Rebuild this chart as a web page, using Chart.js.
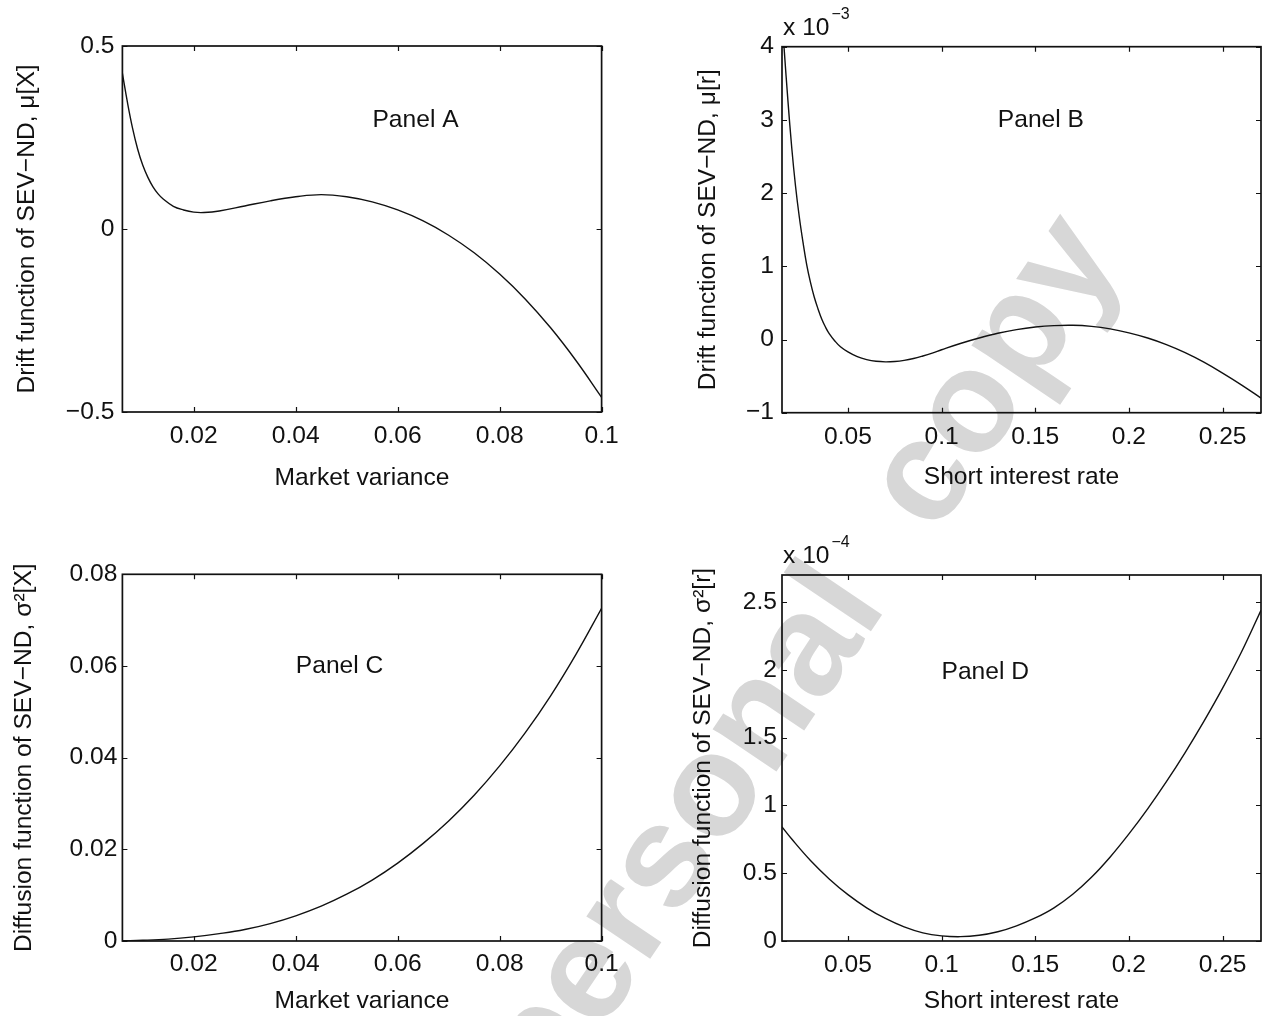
<!DOCTYPE html>
<html>
<head>
<meta charset="utf-8">
<script src="https://cdn.jsdelivr.net/npm/chart.js@4.4.0/dist/chart.umd.min.js"></script>
<style>
html, body { margin:0; padding:0; background:#fff; }
#page { position:relative; width:1262px; height:1016px; overflow:hidden; }
#wm { position:absolute; left:796px; top:654px; transform:translate(-50%,-50%) rotate(-56deg);
      font:bold 145px "Liberation Sans", Arial, sans-serif; word-spacing:44px;
      color:#d7d7d7; white-space:nowrap; line-height:1; }
canvas { position:absolute; }
</style>
</head>
<body>
<div id="page">
  <div id="wm">personal copy</div>
  <canvas id="cA" width="631" height="508" style="left:0;top:0"></canvas>
  <canvas id="cB" width="631" height="508" style="left:631px;top:0"></canvas>
  <canvas id="cC" width="631" height="508" style="left:0;top:508px"></canvas>
  <canvas id="cD" width="631" height="508" style="left:631px;top:508px"></canvas>
</div>
<script>
// Panel A: drift of market variance
const xA = [0.006,0.007,0.008,0.009,0.010,0.011,0.012,0.013,0.014,0.016,0.018,0.020,0.022,0.025,0.030,0.035,0.040,0.045,0.050,0.055,0.060,0.065,0.070,0.075,0.080,0.085,0.090,0.095,0.100];
const yA = [0.425,0.345,0.275,0.218,0.174,0.141,0.115,0.096,0.082,0.062,0.052,0.046,0.045,0.049,0.063,0.077,0.088,0.094,0.088,0.074,0.052,0.022,-0.017,-0.065,-0.123,-0.191,-0.27,-0.36,-0.46];

// Panel B: drift of short rate (x 10^-3)
const xB = [0.0148,0.016,0.018,0.020,0.022,0.024,0.026,0.028,0.030,0.032,0.034,0.036,0.038,0.040,0.043,0.046,0.050,0.055,0.060,0.065,0.070,0.075,0.080,0.085,0.090,0.095,0.100,0.110,0.120,0.130,0.140,0.150,0.160,0.170,0.180,0.190,0.200,0.210,0.220,0.230,0.240,0.250,0.260,0.2705];
const yB = [4.38,3.95,3.25,2.62,2.10,1.68,1.33,1.02,0.78,0.58,0.42,0.28,0.17,0.08,-0.02,-0.10,-0.17,-0.235,-0.275,-0.298,-0.305,-0.30,-0.285,-0.26,-0.225,-0.185,-0.14,-0.055,0.02,0.085,0.135,0.17,0.19,0.195,0.18,0.145,0.09,0.02,-0.07,-0.18,-0.31,-0.46,-0.62,-0.80];

// Panel C: diffusion of market variance
const xC = [0.006,0.010,0.015,0.020,0.025,0.030,0.035,0.040,0.045,0.050,0.055,0.060,0.065,0.070,0.075,0.080,0.085,0.090,0.095,0.100];
const yC = [0.00005,0.00015,0.0004,0.0009,0.0016,0.0025,0.0038,0.0055,0.0076,0.0102,0.0133,0.017,0.0213,0.0262,0.0318,0.0382,0.0454,0.0535,0.0626,0.0726];

// Panel D: diffusion of short rate (x 10^-4)
const xD = [0.0148,0.020,0.030,0.040,0.050,0.060,0.070,0.080,0.090,0.100,0.110,0.120,0.130,0.140,0.150,0.160,0.170,0.180,0.190,0.200,0.210,0.220,0.230,0.240,0.250,0.260,0.2705];
const yD = [0.842,0.752,0.594,0.458,0.342,0.245,0.166,0.104,0.060,0.038,0.032,0.042,0.068,0.112,0.170,0.245,0.345,0.47,0.62,0.79,0.975,1.175,1.39,1.62,1.865,2.13,2.44];

// tick values / labels
const xTicksVar = [0.02,0.04,0.06,0.08,0.1];
const xLabelsVar = ['0.02','0.04','0.06','0.08','0.1'];
const xTicksRate = [0.05,0.1,0.15,0.2,0.25];
const xLabelsRate = ['0.05','0.1','0.15','0.2','0.25'];
const yTicksA = [-0.5,0,0.5];
const yLabelsA = ['\u22120.5','0','0.5'];
const yTicksB = [-1,0,1,2,3,4];
const yLabelsB = ['\u22121','0','1','2','3','4'];
const yTicksC = [0,0.02,0.04,0.06,0.08];
const yLabelsC = ['0','0.02','0.04','0.06','0.08'];
const yTicksD = [0,0.5,1,1.5,2,2.5];
const yLabelsD = ['0','0.5','1','1.5','2','2.5'];

const FONT = 'Liberation Sans';
const FSIZE = 24.6;
const INK = '#111';

// matlab style box with inward ticks + panel text
const deco = {
  id: 'deco',
  afterDatasetsDraw(chart, args, opts) {
    const {ctx, chartArea: a, scales: {x, y}} = chart;
    ctx.save();
    ctx.strokeStyle = INK;
    ctx.lineWidth = 1.2;
    ctx.beginPath();
    x.ticks.forEach(t => {
      const p = Math.round(x.getPixelForValue(t.value)) + 0.5;
      ctx.moveTo(p, a.bottom); ctx.lineTo(p, a.bottom - 5);
      ctx.moveTo(p, a.top); ctx.lineTo(p, a.top + 5);
    });
    y.ticks.forEach(t => {
      const p = Math.round(y.getPixelForValue(t.value)) + 0.5;
      ctx.moveTo(a.left, p); ctx.lineTo(a.left + 5, p);
      ctx.moveTo(a.right, p); ctx.lineTo(a.right - 5, p);
    });
    ctx.stroke();
    ctx.lineWidth = 1.7;
    ctx.strokeRect(a.left, a.top, a.right - a.left, a.bottom - a.top);

    ctx.fillStyle = INK;
    ctx.font = FSIZE + 'px "' + FONT + '"';
    ctx.textAlign = 'center';
    ctx.textBaseline = 'middle';
    ctx.fillText(opts.label, x.getPixelForValue(opts.lx), y.getPixelForValue(opts.ly));

    if (opts.exp) {
      ctx.textAlign = 'left';
      ctx.fillText('x 10', a.left + 1, a.top - 18.5);
      const w = ctx.measureText('x 10').width;
      ctx.font = '16px "' + FONT + '"';
      ctx.fillText(opts.exp, a.left + 3 + w, a.top - 32);
    }
    ctx.restore();
  }
};

function panel(id, c) {
  const font = {family: FONT, size: FSIZE};
  new Chart(document.getElementById(id), {
    type: 'line',
    data: {
      datasets: [{
        data: c.xs.map((v, i) => ({x: v, y: c.ys[i]})),
        borderColor: INK, borderWidth: 1.4, pointRadius: 0,
        tension: 0.4, fill: false
      }]
    },
    options: {
      responsive: false, animation: false, events: [],
      layout: {padding: c.pad},
      plugins: {legend: {display: false}, tooltip: {enabled: false},
        deco: {label: c.label, lx: c.lx, ly: c.ly, exp: c.exp}},
      scales: {
        x: {
          type: 'linear', min: c.xmin, max: c.xmax,
          grid: {display: false, drawTicks: false}, border: {display: false},
          afterBuildTicks: s => { s.ticks = c.xt.map(v => ({value: v})); },
          afterFit: s => { s.height = c.xh; },
          ticks: {callback: (v, i) => c.xl[i], autoSkip: false, maxRotation: 0, minRotation: 0,
                  padding: c.xtp, color: INK, font},
          title: {display: true, text: c.xtitle, color: INK, font, padding: {top: 0, bottom: c.xtb}}
        },
        y: {
          type: 'linear', min: c.ymin, max: c.ymax,
          grid: {display: false, drawTicks: false}, border: {display: false},
          afterBuildTicks: s => { s.ticks = c.yt.map(v => ({value: v})); },
          afterFit: s => { s.width = c.yw; },
          ticks: {callback: (v, i) => c.yl[i], autoSkip: false, padding: c.ytp, color: INK, font},
          title: {display: true, text: c.ytitle, color: INK, font, padding: {top: c.ytt, bottom: 0}}
        }
      }
    },
    plugins: [deco]
  });
}

panel('cA', {xs: xA, ys: yA, xmin: 0.006, xmax: 0.1, ymin: -0.5, ymax: 0.5,
  xt: xTicksVar, xl: xLabelsVar, yt: yTicksA, yl: yLabelsA,
  pad: {top: 46, right: 29.4, left: 0, bottom: 0}, xh: 96, yw: 122.4,
  xtp: 9.5, xtb: 15.2, ytp: 8, ytt: 12.3,
  xtitle: 'Market variance', ytitle: 'Drift function of SEV\u2212ND, \u03bc[X]',
  label: 'Panel A', lx: 0.0635, ly: 0.296});

panel('cB', {xs: xB, ys: yB, xmin: 0.0148, xmax: 0.2705, ymin: -1, ymax: 4,
  xt: xTicksRate, xl: xLabelsRate, yt: yTicksB, yl: yLabelsB,
  pad: {top: 46.7, right: 1, left: 0, bottom: 0}, xh: 95.3, yw: 151,
  xtp: 9.8, xtb: 15.7, ytp: 8, ytt: 62.3,
  xtitle: 'Short interest rate', ytitle: 'Drift function of SEV\u2212ND, \u03bc[r]',
  label: 'Panel B', lx: 0.153, ly: 3.0, exp: '\u22123'});

panel('cC', {xs: xC, ys: yC, xmin: 0.006, xmax: 0.1, ymin: 0, ymax: 0.08,
  xt: xTicksVar, xl: xLabelsVar, yt: yTicksC, yl: yLabelsC,
  pad: {top: 66.3, right: 29.4, left: 0, bottom: 0}, xh: 75, yw: 122.4,
  xtp: 8.5, xtb: 0, ytp: 5, ytt: 9.3,
  xtitle: 'Market variance', ytitle: 'Diffusion function of SEV\u2212ND, \u03c3\u00b2[X]',
  label: 'Panel C', lx: 0.0486, ly: 0.06});

panel('cD', {xs: xD, ys: yD, xmin: 0.0148, xmax: 0.2705, ymin: 0, ymax: 2.7,
  xt: xTicksRate, xl: xLabelsRate, yt: yTicksD, yl: yLabelsD,
  pad: {top: 67, right: 1, left: 0, bottom: 0}, xh: 75, yw: 151,
  xtp: 9.8, xtb: 0, ytp: 5, ytt: 57.3,
  xtitle: 'Short interest rate', ytitle: 'Diffusion function of SEV\u2212ND, \u03c3\u00b2[r]',
  label: 'Panel D', lx: 0.1233, ly: 1.98, exp: '\u22124'});
</script>
</body>
</html>
